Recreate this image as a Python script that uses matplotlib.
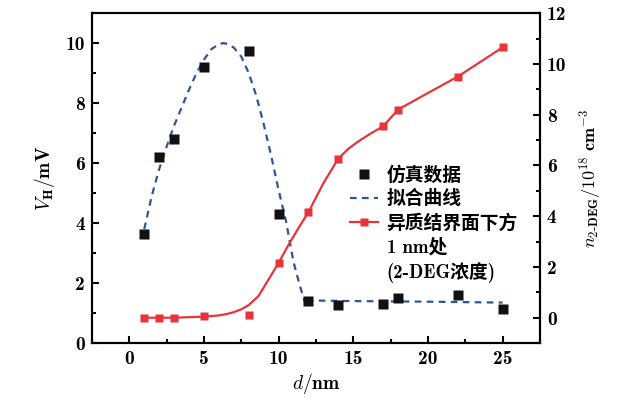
import matplotlib.pyplot as plt
from matplotlib.lines import Line2D
from matplotlib.ticker import MultipleLocator

plt.rcParams["mathtext.fontset"] = "cm"
plt.rcParams["axes.unicode_minus"] = False

# simulated Hall voltage (left axis)
sim_d = [1, 2, 3, 5, 8, 10, 12, 14, 17, 18, 22, 25]
sim_vh = [3.62, 6.2, 6.8, 9.2, 9.75, 4.3, 1.4, 1.28, 1.3, 1.5, 1.6, 1.15]

# fitted curve
fit_d = [1.0, 1.5, 2.0, 2.5, 3.0, 3.5, 4.0, 4.5, 5.0, 5.5, 6.0, 6.3, 6.6, 7.0,
         7.5, 8.0, 8.5, 9.0, 9.5, 10.0, 10.5, 11.0, 11.4, 11.7, 11.85, 12.1,
         15.0, 20.0, 25.0]
fit_vh = [3.8, 4.9, 5.8, 6.55, 7.25, 7.85, 8.45, 9.0, 9.45, 9.8, 9.97, 10.0,
          9.97, 9.85, 9.55, 9.0, 8.25, 7.3, 6.25, 5.1, 4.05, 2.7, 1.95, 1.45,
          1.23, 1.42, 1.4, 1.38, 1.35]

# 2-DEG concentration 1 nm below interface (right axis)
deg_d = [1, 2, 3, 5, 8, 10, 12, 14, 17, 18, 22, 25]
deg_n = [0.0, 0.0, 0.0, 0.05, 0.1, 2.16, 4.16, 6.27, 7.54, 8.2, 9.5, 10.65]

curve_d = [1, 2, 3, 5, 6.0, 6.5, 7.0, 7.5, 8.0, 8.65, 9.32, 10, 10.66, 11.33,
           12, 13, 14, 14.7, 15.45, 16.2, 17, 18, 19.9, 22, 25]
curve_n = [0.0, 0.0, 0.0, 0.04, 0.09, 0.14, 0.22, 0.33, 0.5, 0.85, 1.5, 2.16,
           2.87, 3.53, 4.16, 5.3, 6.27, 6.67, 6.99, 7.27, 7.54, 8.2, 8.82, 9.5,
           10.65]

blue = "#2f5597"
red = "#e8333a"

fig = plt.figure(figsize=(6.3, 3.98), dpi=100)
ax = fig.add_axes([0.146, 0.138, 0.711, 0.829])
ax2 = ax.twinx()

ax.plot(fit_d, fit_vh, color=blue, lw=1.6, linestyle=(0, (3, 2.4)), zorder=2)
ax.plot(sim_d, sim_vh, "s", color="#111111", ms=6.5, mec="none", zorder=3)

ax2.plot(curve_d, curve_n, "-", color=red, lw=1.6)
ax2.plot(deg_d, deg_n, "s", color=red, ms=6, mec="none")

ax.set_xlim(-2.5, 27.5)
ax.set_ylim(0, 11)

ax.xaxis.set_major_locator(MultipleLocator(5))
ax.xaxis.set_minor_locator(MultipleLocator(2.5))
ax.yaxis.set_major_locator(MultipleLocator(2))
ax.yaxis.set_minor_locator(MultipleLocator(1))
ax2.yaxis.set_major_locator(MultipleLocator(2))
ax2.yaxis.set_minor_locator(MultipleLocator(1))

for a in (ax, ax2):
    for s in a.spines.values():
        s.set_linewidth(1.5)
    a.tick_params(which="major", direction="in", length=5, width=1.5,
                  labelsize=14, pad=5)
    a.tick_params(which="minor", direction="in", length=3, width=1.5)
    for lab in a.get_xticklabels() + a.get_yticklabels():
        lab.set_family("cmb10")
ax.tick_params(top=False, right=False, which="both")
ax2.set_yticks([0, 2, 4, 6, 8, 10, 12])
ax2.set_yticklabels(["0", "2", "4", "6", "8", "10", "12"], family="cmb10")
ax2.set_ylim(-1, 12)

ax.set_xlabel(r"$d/\mathbf{nm}$", fontsize=14, labelpad=2)
ax.set_ylabel(r"$V_{\mathbf{H}}/\mathbf{mV}$", fontsize=14, labelpad=6)
ax2.set_ylabel(r"$n_{\mathbf{2\text{-}DEG}}/\mathbf{10^{18}\ cm^{-3}}$",
               fontsize=13, labelpad=8)

handles = [
    Line2D([], [], ls="none", marker="s", color="#111111", ms=6.5, mec="none"),
    Line2D([], [], color=blue, lw=1.6, linestyle=(0, (3, 2.4))),
    Line2D([], [], color=red, lw=1.6, marker="s", ms=6, mec="none"),
    Line2D([], [], ls="none"),
    Line2D([], [], ls="none"),
]
labels = ["仿真数据", "拟合曲线", "异质结界面下方", "1 nm处", "(2-DEG浓度)"]
leg = ax2.legend(handles, labels, loc="upper left", bbox_to_anchor=(0.555, 0.565),
                 frameon=False, handlelength=1.5, handletextpad=0.45,
                 labelspacing=0.3, borderpad=0,
                 prop={"family": ["cmb10", "Noto Sans CJK SC"],
                       "weight": "bold", "size": 13.5})

fig.savefig("out.png", dpi=100)
